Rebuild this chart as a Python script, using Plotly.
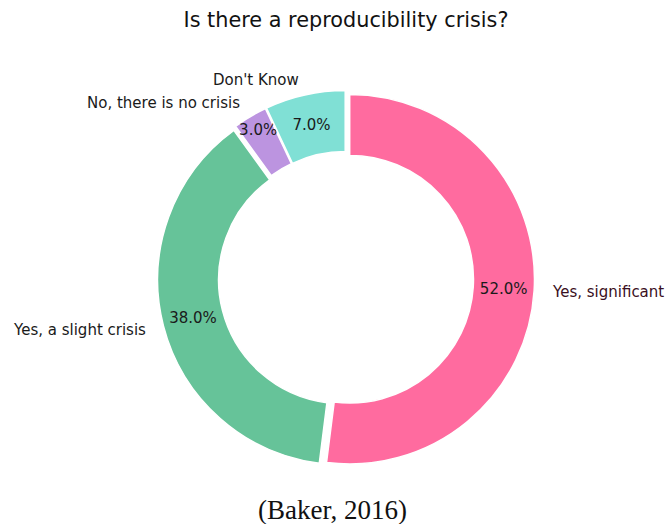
import math
import plotly.graph_objects as go

labels = ["Yes, significant", "Yes, a slight crisis", "No, there is no crisis", "Don't Know"]
values = [52.0, 38.0, 3.0, 7.0]
colors = ["#FF6B9F", "#66C399", "#BC94E0", "#80E0D5"]
label_colors = ["#3a0f22", "#1a1a1a", "#1a1a1a", "#1a1a1a"]

title_text = "Is there a reproducibility crisis?"
caption_text = "(Baker, 2016)"

W, H = 665, 524
dom_x = [0.2368, 0.8038]
dom_y = [0.1079, 0.8273]
pull_frac = 0.02
pull = [pull_frac] * len(values)
label_distance = 1.085

fig = go.Figure()
fig.add_trace(go.Pie(
    labels=labels, values=values, sort=False, direction="clockwise", rotation=0,
    hole=0.67, pull=pull,
    marker=dict(colors=colors, line=dict(color="white", width=1.5)),
    textinfo="percent", texttemplate="%{percent:.1%}",
    textposition="inside", insidetextorientation="horizontal",
    textfont=dict(family="DejaVu Sans", size=15, color="#1a1a1a"),
    domain=dict(x=dom_x, y=dom_y), showlegend=False, hoverinfo="skip",
))

# outside category labels, placed at label_distance * radius along each slice's mid-angle
cx = (dom_x[0] + dom_x[1]) / 2 * W
cy = (1 - (dom_y[0] + dom_y[1]) / 2) * H
R = min((dom_x[1] - dom_x[0]) * W, (dom_y[1] - dom_y[0]) * H) / 2 / (1 + pull_frac)
total = sum(values)
cum = 0.0
annotations = []
for lab, v, col in zip(labels, values, label_colors):
    theta = 2 * math.pi * (cum + v / 2) / total
    cum += v
    d = (label_distance + pull_frac) * R
    px = cx + d * math.sin(theta)
    py = cy - d * math.cos(theta)
    annotations.append(dict(
        text=lab, x=px / W, y=1 - py / H, xref="paper", yref="paper",
        xanchor="left" if math.sin(theta) >= 0 else "right", yanchor="middle",
        showarrow=False, font=dict(family="DejaVu Sans", size=15, color=col),
    ))

annotations.append(dict(text=caption_text, x=0.5, y=0.027, xref="paper", yref="paper",
                        xanchor="center", yanchor="middle", showarrow=False,
                        font=dict(family="Liberation Serif", size=27, color="#111")))

fig.update_layout(
    width=W, height=H, margin=dict(l=0, r=0, t=0, b=0),
    paper_bgcolor="white", plot_bgcolor="white",
    uniformtext=dict(minsize=15, mode="show"),
    title=dict(text=title_text, x=cx / W, xanchor="center", y=0.962, yanchor="middle",
               font=dict(family="DejaVu Sans", size=20.8, color="#111")),
    annotations=annotations,
)
fig.write_html("out.html")
